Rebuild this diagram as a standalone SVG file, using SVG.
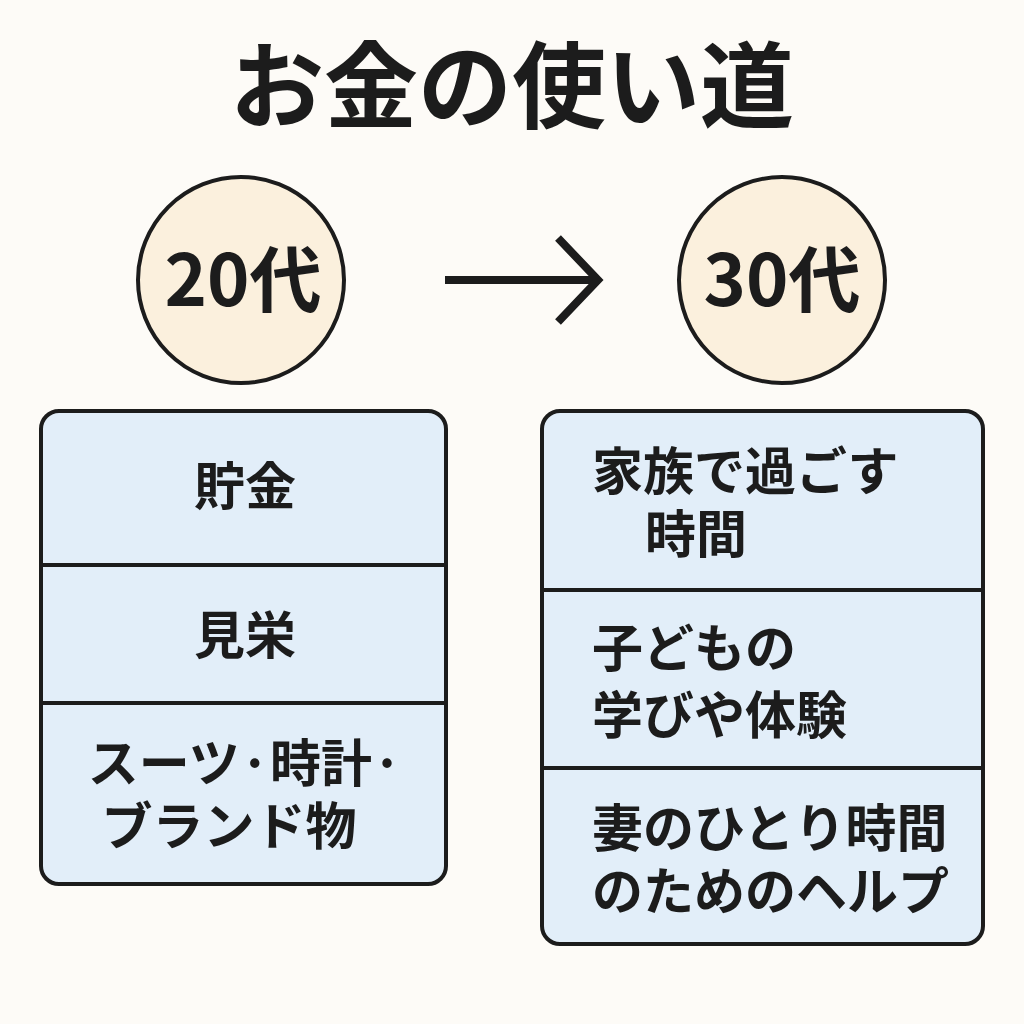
<svg xmlns="http://www.w3.org/2000/svg" width="1024" height="1024" viewBox="0 0 1024 1024">
<style>
text{font-family:"Noto Sans CJK JP","Noto Sans",sans-serif;font-weight:700;fill:#1c1c1c}
.circ{fill:#fbf0dd;stroke:#1c1c1c;stroke-width:4}
.box{fill:#e2eef9;stroke:#1c1c1c;stroke-width:4}
.div{stroke:#1c1c1c;stroke-width:4}
.t{font-size:51px}
.c{font-size:72px;text-anchor:middle}
</style>
<rect width="1024" height="1024" fill="#fdfbf7"/>
<text x="512" y="121" font-size="94" text-anchor="middle">お金の使い道</text>
<g id="node-20s">
<circle class="circ" cx="241" cy="280" r="103"/>
<text class="c" x="243" y="306">20代</text>
</g>
<g id="node-30s">
<circle class="circ" cx="782" cy="280" r="103"/>
<text class="c" x="782" y="306">30代</text>
</g>
<g id="connectors" fill="none" stroke="#1c1c1c" stroke-width="8">
<line x1="445" y1="280" x2="596" y2="280"/>
<polyline points="558,238 598,280 558,322"/>
</g>
<g id="box-20s">
<rect class="box" x="41" y="411" width="405" height="473" rx="18"/>
<line class="div" x1="41" y1="565" x2="446" y2="565"/>
<line class="div" x1="41" y1="703" x2="446" y2="703"/>
<text class="t" x="245" y="505" text-anchor="middle">貯金</text>
<text class="t" x="245" y="654" text-anchor="middle">見栄</text>
<text class="t" text-anchor="middle"><tspan x="245" y="782">スーツ·時計·</tspan><tspan x="229" y="845">ブランド物</tspan></text>
</g>
<g id="box-30s">
<rect class="box" x="542" y="411" width="441" height="533" rx="18"/>
<line class="div" x1="542" y1="590" x2="983" y2="590"/>
<line class="div" x1="542" y1="768" x2="983" y2="768"/>
<text class="t"><tspan x="592" y="490">家族で過ごす</tspan><tspan x="645" y="553">時間</tspan></text>
<text class="t"><tspan x="592" y="667">子どもの</tspan><tspan x="592" y="734">学びや体験</tspan></text>
<text class="t"><tspan x="592" y="847">妻のひとり時間</tspan><tspan x="592" y="910">のためのヘルプ</tspan></text>
</g>
</svg>
